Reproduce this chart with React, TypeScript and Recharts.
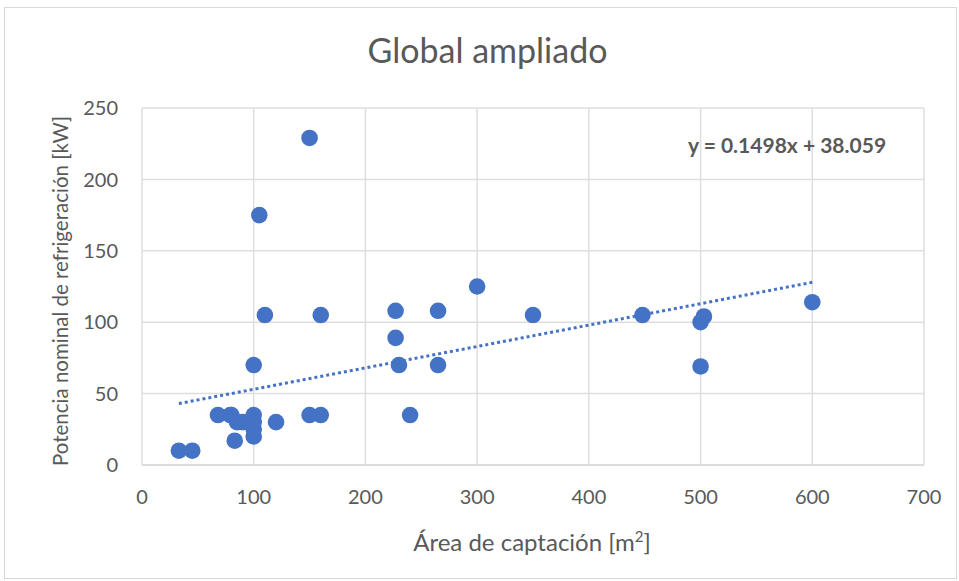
import React from 'react';
import { ScatterChart, Scatter, XAxis, YAxis, CartesianGrid, ReferenceLine } from 'recharts';

const areas = [33, 45, 68, 79, 80, 85, 90, 95, 83, 100, 100, 100, 100, 100, 105, 110, 120, 150, 150, 160, 160, 227, 227, 230, 240, 265, 265, 300, 350, 448, 500, 503, 500, 600];
const powers = [10, 10, 35, 35, 35, 30, 30, 30, 17, 20, 25, 30, 35, 70, 175, 105, 30, 229, 35, 35, 105, 108, 89, 70, 35, 108, 70, 125, 105, 105, 100, 104, 69, 114];

const xTicks = [0, 100, 200, 300, 400, 500, 600, 700];
const yTicks = [0, 50, 100, 150, 200, 250];

const slope = 0.1498;
const intercept = 38.059;
const trendX = [33, 600];

const title = 'Global ampliado';
const xLabel = 'Área de captación [m';
const yLabel = 'Potencia nominal de refrigeración [kW]';
const equation = 'y = 0.1498x + 38.059';

const data = areas.map((a, i) => ({ x: a, y: powers[i] }));
const trendSeg = trendX.map((x) => ({ x, y: slope * x + intercept }));

const font = 'Lato, "Open Sans", sans-serif';
const gray = '#595959';

export default function App() {
  return (
    <div style={{ position: 'absolute', left: 0, top: 0, width: 959, height: 581, background: '#fff', fontFamily: font }}>
      <div style={{ position: 'absolute', left: 4, top: 7, width: 953, height: 572, border: '1px solid #d9d9d9', boxSizing: 'border-box' }} />
      <ScatterChart width={959} height={581} margin={{ top: 108, right: 35, left: 82, bottom: 86 }}>
        <CartesianGrid stroke="#dedede" strokeWidth={1.5} horizontalValues={yTicks} verticalValues={xTicks} />
        <XAxis
          type="number"
          dataKey="x"
          domain={[0, 700]}
          ticks={xTicks}
          height={30}
          tickLine={false}
          axisLine={{ stroke: '#d9d9d9', strokeWidth: 1.5 }}
          tick={{ fill: gray, fontSize: 20, fontFamily: font }}
          tickMargin={19}
          interval={0}
        />
        <YAxis
          type="number"
          dataKey="y"
          domain={[0, 250]}
          ticks={yTicks}
          width={60}
          tickLine={false}
          axisLine={false}
          tick={{ fill: gray, fontSize: 20, fontFamily: font }}
          tickMargin={18}
          interval={0}
        />
        <ReferenceLine segment={trendSeg} stroke="#4472C4" strokeWidth={3} strokeDasharray="3 3" ifOverflow="visible" />
        <Scatter data={data} fill="#4472C4" isAnimationActive={false} shape={(p: any) => <circle cx={p.cx} cy={p.cy} r={8.3} fill="#4472C4" />} />
      </ScatterChart>
      <div style={{ position: 'absolute', left: 8, width: 959, top: 30, textAlign: 'center', fontSize: 34, color: gray, lineHeight: '40px' }}>{title}</div>
      <div style={{ position: 'absolute', left: 688, top: 133, fontSize: 21, fontWeight: 700, color: gray, lineHeight: '24px', whiteSpace: 'nowrap' }}>{equation}</div>
      <div style={{ position: 'absolute', left: 0, width: 1064, top: 527, textAlign: 'center', fontSize: 24, color: gray, lineHeight: '30px' }}>
        {xLabel}<sup style={{ fontSize: 15, lineHeight: 0 }}>2</sup>]
      </div>
      <div style={{ position: 'absolute', left: 60 - 250, top: 291 - 14, width: 500, textAlign: 'center', fontSize: 20.5, color: gray, lineHeight: '28px', transform: 'rotate(-90deg)', whiteSpace: 'nowrap' }}>
        {yLabel}
      </div>
    </div>
  );
}
